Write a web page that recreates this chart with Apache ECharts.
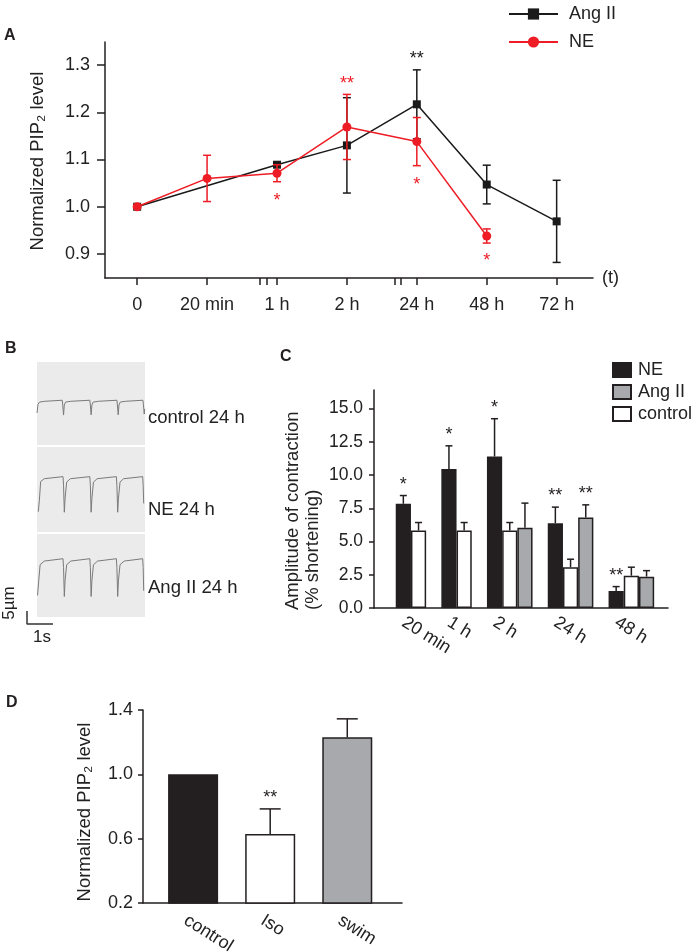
<!DOCTYPE html>
<html>
<head>
<meta charset="utf-8">
<script src="https://cdn.jsdelivr.net/npm/echarts@6/dist/echarts.min.js"></script>
<style>
html,body{margin:0;padding:0;background:#fff;}
#chart{width:693px;height:952px;}
</style>
</head>
<body>
<div id="chart"></div>
<script>
// ---------- Panel A data ----------
const A_times = ['0', '20 min', '1 h', '2 h', '24 h', '48 h', '72 h'];
const A_angII = [1.000, null, 1.089, 1.130, 1.217, 1.047, 0.969];
const A_angII_sem = [0, null, 0.004, 0.101, 0.073, 0.041, 0.087];
const A_ne = [1.000, 1.060, 1.071, 1.169, 1.138, 0.938, null];
const A_ne_sem = [0, 0.049, 0.018, 0.069, 0.051, 0.015, null];
const A_yTicks = [0.9, 1.0, 1.1, 1.2, 1.3];
const A_starsNE = [[2, 1.021, '*'], [3, 1.269, '**'], [4, 1.055, '*'], [5, 0.894, '*']];
const A_starsAng = [[4, 1.321, '**']];

// ---------- Panel B traces (time s, length change um) ----------
const B_control = [[0.0,-4.6],[0.04,-1.2],[0.1,-0.4],[0.3,-0.1],[0.97,0.3],[0.99,-1.5],[1.02,-5.4],[1.05,-1.5],[1.1,-0.4],[1.3,-0.1],[2.03,0.3],[2.05,-1.5],[2.08,-5.3],[2.11,-1.5],[2.16,-0.4],[2.36,-0.1],[3.07,0.3],[3.09,-1.5],[3.12,-5.3],[3.15,-1.5],[3.2,-0.4],[3.4,-0.1],[4.07,0.3],[4.09,-1.5],[4.12,-5.0],[4.14,-3.0]];
const B_ne = [[0.05,-13.2],[0.09,-9],[0.14,-1.6],[0.28,-0.5],[1.0,0.3],[1.02,-3],[1.05,-13.4],[1.08,-8],[1.14,-1.8],[1.28,-0.5],[2.03,0.3],[2.05,-3],[2.08,-13.4],[2.11,-8],[2.17,-1.8],[2.31,-0.5],[3.05,0.3],[3.07,-3],[3.1,-13.4],[3.13,-8],[3.19,-1.8],[3.33,-0.5],[4.06,0.3],[4.08,-3],[4.1,-10]];
const B_ang = [[0.02,-13.8],[0.06,-9],[0.12,-2],[0.28,-0.6],[1.0,0.3],[1.02,-3],[1.05,-14.2],[1.08,-8],[1.14,-2],[1.3,-0.6],[2.03,0.3],[2.05,-3],[2.08,-14.2],[2.11,-8],[2.17,-2],[2.33,-0.6],[3.05,0.3],[3.07,-3],[3.1,-14.2],[3.13,-8],[3.19,-2],[3.35,-0.6],[4.06,0.3],[4.08,-3],[4.1,-12]];
const B_labels = ['control 24 h', 'NE 24 h', 'Ang II 24 h'];
const B_scaleUm = 5, B_scaleS = 1;

// ---------- Panel C data ----------
const C_times = ['20 min', '1 h', '2 h', '24 h', '48 h'];
const C_NE = [7.84, 10.45, 11.40, 6.38, 1.28];
const C_NE_err = [0.62, 1.75, 2.84, 1.21, 0.33];
const C_ctrl = [5.83, 5.83, 5.83, 3.07, 2.43];
const C_ctrl_err = [0.60, 0.60, 0.60, 0.60, 0.64];
const C_ang = [null, null, 6.03, 6.80, 2.36];
const C_ang_err = [null, null, 1.86, 0.96, 0.45];
const C_NE_stars = ['*', '*', '*', '**', '**'];
const C_ang_stars = [null, null, null, '**', null];
const C_yTicks = [0, 2.5, 5, 7.5, 10, 12.5, 15];

// ---------- Panel D data ----------
const D_cats = ['control', 'Iso', 'swim'];
const D_vals = [1.0, 0.629, 1.23];
const D_err = [0, 0.156, 0.115];
const D_stars = [null, '**', null];
const D_yTicks = [0.2, 0.6, 1.0, 1.4];

// ---------- styling ----------
const FONT = 'Liberation Sans, Arial, Helvetica, sans-serif';
const INK = '#231f20';
const RED = '#ee1c24';
const GRAY = '#a7a9ac';
const D_LABEL_SHIFT = -0.1;   // rotated labels start slightly left of bar centres

// slot layout for panel C (groups of adjacent bars separated by one empty slot)
const C_pos = {ne: [], ctrl: [], ang: []};
(function(){
  let s = 0;
  C_times.forEach((t, i) => {
    C_pos.ne[i] = s++;
    C_pos.ctrl[i] = s++;
    if (C_ang[i] != null) C_pos.ang[i] = s++;
    s++;
  });
})();

function errRender(capHalf, upOnly, lw) {
  return function (params, api) {
    const x = api.value(0), y = api.value(1), e = api.value(2);
    const pT = api.coord([x, y + e]);
    const pB = api.coord([x, upOnly ? y : y - e]);
    const st = {stroke: api.visual('color'), lineWidth: lw || 1.5};
    const ch = [
      {type: 'line', shape: {x1: pT[0], y1: pT[1], x2: pB[0], y2: pB[1]}, style: st},
      {type: 'line', shape: {x1: pT[0] - capHalf, y1: pT[1], x2: pT[0] + capHalf, y2: pT[1]}, style: st}
    ];
    if (!upOnly) ch.push({type: 'line', shape: {x1: pB[0] - capHalf, y1: pB[1], x2: pB[0] + capHalf, y2: pB[1]}, style: st});
    return {type: 'group', children: ch};
  };
}
function starRender(color, abovePx) {
  return function (params, api) {
    const p = api.coord([api.value(0), api.value(1)]);
    return {type: 'text', x: p[0], y: p[1] - (abovePx || 0) + 4,
      style: {text: api.value(2), fill: color, font: '18px ' + FONT, align: 'center', verticalAlign: 'middle'}};
  };
}
function pairs(xs, ys, es) {
  const out = [];
  ys.forEach((v, i) => { if (v != null) out.push(es ? [xs[i], v, es[i]] : [xs[i], v]); });
  return out;
}
const A_idx = A_times.map((_, i) => i);

const axisLineStyle = {onZero: false, lineStyle: {color: INK, width: 1.5}};
const lblStyle = {color: '#222', fontSize: 18, fontFamily: FONT};
const hiddenAxis = (g, mn, mx) => ({gridIndex: g, type: 'value', min: mn, max: mx, show: false, axisLine: {onZero: false}});
const G = (o) => Object.assign({outerBoundsMode: 'none', containLabel: false}, o);

const option = {
  animation: false,
  textStyle: {fontFamily: FONT},
  grid: [
    G({left: 105, top: 42, width: 488, height: 236}),                       // A
    G({left: 37, top: 362, width: 108, height: 83, show: true, backgroundColor: '#ebebeb', borderWidth: 0}),   // B1
    G({left: 37, top: 447, width: 108, height: 85, show: true, backgroundColor: '#ebebeb', borderWidth: 0}),   // B2
    G({left: 37, top: 534, width: 108, height: 83, show: true, backgroundColor: '#ebebeb', borderWidth: 0}),   // B3
    G({left: 374, top: 390, width: 294, height: 218}),                      // C
    G({left: 143, top: 710, width: 259, height: 193}),                      // D
    G({left: 27, top: 611, width: 26, height: 13})                          // B scale bar
  ],
  xAxis: [
    {gridIndex: 0, type: 'value', min: -0.46, max: 6.52, splitLine: {show: false},
     axisLine: axisLineStyle,
     axisTick: {length: 7, lineStyle: {color: INK, width: 1.5}, customValues: [0,1,2,3,4,5,6,1.75,1.86,3.68,3.77]},
     axisLabel: Object.assign({}, lblStyle, {margin: 18, customValues: A_idx, formatter: v => A_times[Math.round(v)]}),
     name: '(t)', nameLocation: 'end', nameGap: 9, nameTextStyle: {fontSize: 18, color: '#222', padding: [0, 0, 8, 0]}},
    hiddenAxis(1, 0, 4.15),
    hiddenAxis(2, 0, 4.15),
    hiddenAxis(3, 0, 4.15),
    {gridIndex: 4, type: 'value', min: -1.93, max: 17.41, splitLine: {show: false},
     axisLine: axisLineStyle, axisTick: {show: false},
     axisLabel: Object.assign({}, lblStyle, {margin: 13, rotate: -32, customValues: C_pos.ne,
       formatter: v => C_times[C_pos.ne.indexOf(Math.round(v))]})},
    {gridIndex: 5, type: 'value', min: -0.65, max: 2.71, splitLine: {show: false},
     axisLine: axisLineStyle, axisTick: {show: false},
     axisLabel: Object.assign({}, lblStyle, {margin: 16, rotate: -32, customValues: D_cats.map((c, i) => i + D_LABEL_SHIFT),
       formatter: v => D_cats[Math.round(v)]})},
    hiddenAxis(6, 0, B_scaleS)
  ],
  yAxis: [
    {gridIndex: 0, type: 'value', min: 0.849, max: 1.349, splitLine: {show: false},
     axisLine: axisLineStyle,
     axisTick: {length: 8, lineStyle: {color: INK, width: 1.5}, customValues: A_yTicks},
     axisLabel: Object.assign({}, lblStyle, {margin: 15, customValues: A_yTicks, formatter: v => v.toFixed(1)})},
    hiddenAxis(1, -16.9, 15),
    hiddenAxis(2, -21, 11.7),
    hiddenAxis(3, -22.1, 9.8),
    {gridIndex: 4, type: 'value', min: 0, max: 16.4, splitLine: {show: false},
     axisLine: axisLineStyle,
     axisTick: {length: 5, lineStyle: {color: INK, width: 1.5}, customValues: C_yTicks},
     axisLabel: Object.assign({}, lblStyle, {fontSize: 17.5, margin: 11, customValues: C_yTicks, formatter: v => v.toFixed(1)})},
    {gridIndex: 5, type: 'value', min: 0.2, max: 1.4, splitLine: {show: false},
     axisLine: axisLineStyle,
     axisTick: {length: 5, lineStyle: {color: INK, width: 1.5}, customValues: D_yTicks},
     axisLabel: Object.assign({}, lblStyle, {margin: 10, customValues: D_yTicks, formatter: v => v.toFixed(1)})},
    hiddenAxis(6, 0, B_scaleUm)
  ],
  legend: [
    {data: ['Ang II', 'NE'], orient: 'vertical', left: 508, top: 5, padding: 0, itemWidth: 49, itemHeight: 14, itemGap: 10,
     textStyle: {fontSize: 18, color: '#222', padding: [0, 0, 0, 6]}},
    {data: [{name: 'NE ', icon: 'rect'}, {name: 'Ang II ', icon: 'rect'}, {name: 'control ', icon: 'rect'}],
     orient: 'vertical', left: 612, top: 361, padding: 0, itemWidth: 18, itemHeight: 14, itemGap: 4,
     textStyle: {fontSize: 18, color: '#222', lineHeight: 17, padding: [0, 0, 0, 2]}}
  ],
  graphic: [
    {type: 'text', left: 4, top: 28, style: {text: 'A', font: 'bold 16px ' + FONT, fill: INK}},
    {type: 'text', left: 5, top: 341, style: {text: 'B', font: 'bold 16px ' + FONT, fill: INK}},
    {type: 'text', left: 280, top: 349, style: {text: 'C', font: 'bold 16px ' + FONT, fill: INK}},
    {type: 'text', left: 6, top: 695, style: {text: 'D', font: 'bold 16px ' + FONT, fill: INK}},
    {type: 'text', x: 38, y: 161, rotation: Math.PI / 2,
     style: {text: 'Normalized PIP\u2082 level', font: '18.5px ' + FONT, fill: '#222', align: 'center', verticalAlign: 'middle'}},
    {type: 'text', x: 85, y: 812, rotation: Math.PI / 2,
     style: {text: 'Normalized PIP\u2082 level', font: '18.5px ' + FONT, fill: '#222', align: 'center', verticalAlign: 'middle'}},
    {type: 'text', x: 303, y: 610, rotation: Math.PI / 2,
     style: {text: 'Amplitude of contraction\n(% shortening)', font: '18.5px ' + FONT, lineHeight: 20, fill: '#222', align: 'left', verticalAlign: 'middle'}},
    {type: 'text', x: 148, y: 418, style: {text: B_labels[0], font: '18.5px ' + FONT, fill: '#222', verticalAlign: 'middle'}},
    {type: 'text', x: 148, y: 510, style: {text: B_labels[1], font: '18.5px ' + FONT, fill: '#222', verticalAlign: 'middle'}},
    {type: 'text', x: 148, y: 588, style: {text: B_labels[2], font: '18.5px ' + FONT, fill: '#222', verticalAlign: 'middle'}},
    {type: 'text', x: 9, y: 603, rotation: Math.PI / 2,
     style: {text: B_scaleUm + '\u00b5m', font: '17px ' + FONT, fill: '#222', align: 'center', verticalAlign: 'middle'}},
    {type: 'text', x: 42, y: 637, style: {text: B_scaleS + 's', font: '17px ' + FONT, fill: '#222', align: 'center', verticalAlign: 'middle'}}
  ],
  series: [
    // ----- A -----
    {type: 'custom', xAxisIndex: 0, yAxisIndex: 0, z: 1, itemStyle: {color: '#1a1a1a'},
     renderItem: errRender(4, false), data: pairs(A_idx, A_angII, A_angII_sem).filter(d => d[2] > 0)},
    {name: 'Ang II', type: 'line', xAxisIndex: 0, yAxisIndex: 0, z: 2, symbol: 'rect', symbolSize: 8,
     itemStyle: {color: '#1a1a1a'}, lineStyle: {color: '#1a1a1a', width: 1.5}, data: pairs(A_idx, A_angII)},
    {type: 'custom', xAxisIndex: 0, yAxisIndex: 0, z: 3, itemStyle: {color: RED},
     renderItem: errRender(4, false), data: pairs(A_idx, A_ne, A_ne_sem).filter(d => d[2] > 0)},
    {name: 'NE', type: 'line', xAxisIndex: 0, yAxisIndex: 0, z: 4, symbol: 'circle', symbolSize: 9,
     itemStyle: {color: RED}, lineStyle: {color: RED, width: 1.5}, data: pairs(A_idx, A_ne)},
    {type: 'custom', xAxisIndex: 0, yAxisIndex: 0, z: 5, renderItem: starRender(RED), data: A_starsNE},
    {type: 'custom', xAxisIndex: 0, yAxisIndex: 0, z: 5, renderItem: starRender('#1a1a1a'), data: A_starsAng},
    // ----- B -----
    {type: 'line', xAxisIndex: 1, yAxisIndex: 1, symbol: 'none', lineStyle: {color: '#7a7a7a', width: 1}, data: B_control},
    {type: 'line', xAxisIndex: 2, yAxisIndex: 2, symbol: 'none', lineStyle: {color: '#7a7a7a', width: 1}, data: B_ne},
    {type: 'line', xAxisIndex: 3, yAxisIndex: 3, symbol: 'none', lineStyle: {color: '#7a7a7a', width: 1}, data: B_ang},
    {type: 'line', xAxisIndex: 6, yAxisIndex: 6, symbol: 'none', clip: false, lineStyle: {color: '#333', width: 1.5},
     data: [[0, B_scaleUm], [0, 0], [B_scaleS, 0]]},
    // ----- C -----
    {name: 'NE ', type: 'bar', xAxisIndex: 4, yAxisIndex: 4, barWidth: 15.2, barGap: '-100%',
     itemStyle: {color: INK, borderColor: INK, borderWidth: 1.5}, data: pairs(C_pos.ne, C_NE)},
    {name: 'Ang II ', type: 'bar', xAxisIndex: 4, yAxisIndex: 4, barWidth: 15.2, barGap: '-100%',
     itemStyle: {color: GRAY, borderColor: INK, borderWidth: 1.5}, data: pairs(C_pos.ang, C_ang)},
    {name: 'control ', type: 'bar', xAxisIndex: 4, yAxisIndex: 4, barWidth: 15.2, barGap: '-100%',
     itemStyle: {color: '#fff', borderColor: INK, borderWidth: 1.5}, data: pairs(C_pos.ctrl, C_ctrl)},
    {type: 'custom', xAxisIndex: 4, yAxisIndex: 4, z: 3, itemStyle: {color: INK}, renderItem: errRender(3.5, true),
     data: pairs(C_pos.ne, C_NE, C_NE_err).concat(pairs(C_pos.ctrl, C_ctrl, C_ctrl_err), pairs(C_pos.ang, C_ang, C_ang_err))},
    {type: 'custom', xAxisIndex: 4, yAxisIndex: 4, z: 3, renderItem: starRender(INK, 15),
     data: C_times.map((t, i) => C_NE_stars[i] ? [C_pos.ne[i], C_NE[i] + C_NE_err[i], C_NE_stars[i]] : null).filter(Boolean)
       .concat(C_times.map((t, i) => C_ang_stars[i] ? [C_pos.ang[i], C_ang[i] + C_ang_err[i], C_ang_stars[i]] : null).filter(Boolean))},
    // ----- D -----
    {type: 'bar', xAxisIndex: 5, yAxisIndex: 5, barWidth: 50,
     data: D_vals.map((v, i) => ({value: [i, v], itemStyle: {color: [INK, '#fff', GRAY][i], borderColor: INK, borderWidth: 1.5}}))},
    {type: 'custom', xAxisIndex: 5, yAxisIndex: 5, z: 3, itemStyle: {color: INK}, renderItem: errRender(10.5, true),
     data: D_vals.map((v, i) => [i, v, D_err[i]]).filter(d => d[2] > 0)},
    {type: 'custom', xAxisIndex: 5, yAxisIndex: 5, z: 3, renderItem: starRender(INK, 15),
     data: D_vals.map((v, i) => D_stars[i] ? [i, v + D_err[i], D_stars[i]] : null).filter(Boolean)}
  ]
};
const chart = echarts.init(document.getElementById('chart'), null, {renderer: 'canvas'});
chart.setOption(option);
</script>
</body>
</html>
